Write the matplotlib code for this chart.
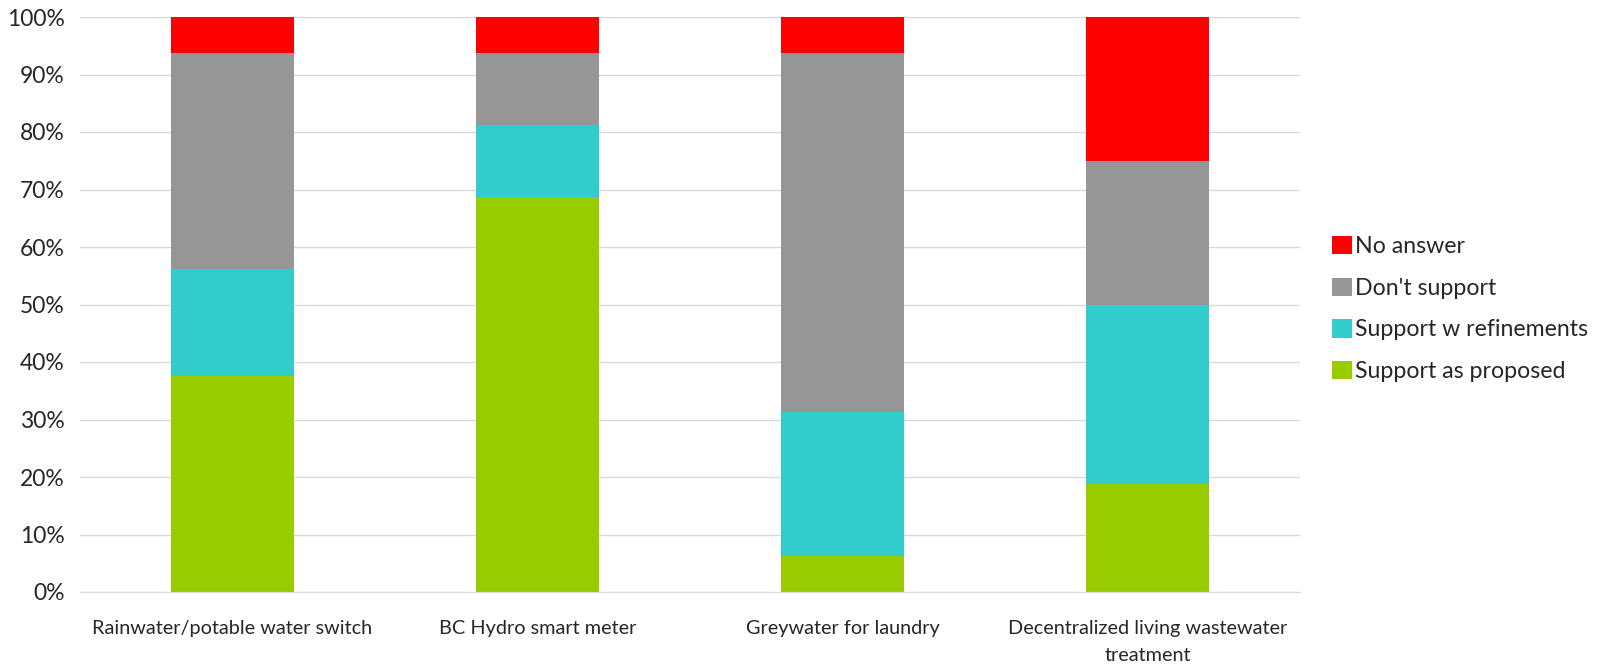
import matplotlib.pyplot as plt
import numpy as np

categories = ["Rainwater/potable water switch", "BC Hydro smart meter",
              "Greywater for laundry", "Decentralized living wastewater\ntreatment"]
series_names = ["Support as proposed", "Support w refinements", "Don't support", "No answer"]
support = [37.5, 68.75, 6.25, 18.75]
refinements = [18.75, 12.5, 25.0, 31.25]
dont_support = [37.5, 12.5, 62.5, 25.0]
no_answer = [6.25, 6.25, 6.25, 25.0]
colors = ["#99CC00", "#33CCCC", "#969696", "#FF0000"]

plt.rcParams['font.family'] = ['Lato', 'DejaVu Sans']
txt = '#262626'

fig = plt.figure(figsize=(16.09, 6.66), dpi=100)
ax = fig.add_axes([80 / 1609, 1 - 592 / 666, 1220 / 1609, 575 / 666])

x = np.arange(len(categories))
bottom = np.zeros(len(categories))
for name, vals, c in zip(series_names, [support, refinements, dont_support, no_answer], colors):
    ax.bar(x, vals, width=0.405, bottom=bottom, color=c, label=name, zorder=2)
    bottom += np.array(vals)

ax.set_xlim(-0.5, len(categories) - 0.5)
ax.set_ylim(0, 100)
ax.set_yticks(np.arange(0, 101, 10))
ax.set_yticklabels([f"{v}%" for v in range(0, 101, 10)], fontsize=16.5, color=txt)
ax.set_xticks(x)
ax.set_xticklabels(categories, fontsize=14.3, color=txt, linespacing=1.75)
ax.tick_params(axis='both', length=0)
ax.tick_params(axis='x', pad=20)
ax.tick_params(axis='y', pad=11)
ax.grid(axis='y', color='#D9D9D9', linewidth=1, zorder=0)
for s in ['top', 'right', 'left']:
    ax.spines[s].set_visible(False)
ax.spines['bottom'].set_color('#D9D9D9')

h, l = ax.get_legend_handles_labels()
fig.legend(h[::-1], l[::-1], loc='center left', bbox_to_anchor=(1311 / 1609, 1 - 309 / 666),
           frameon=False, fontsize=16.7, handlelength=0.85, handleheight=0.85,
           handletextpad=0.15, labelspacing=0.88, labelcolor=txt)

fig.savefig("out.png", dpi=100)
